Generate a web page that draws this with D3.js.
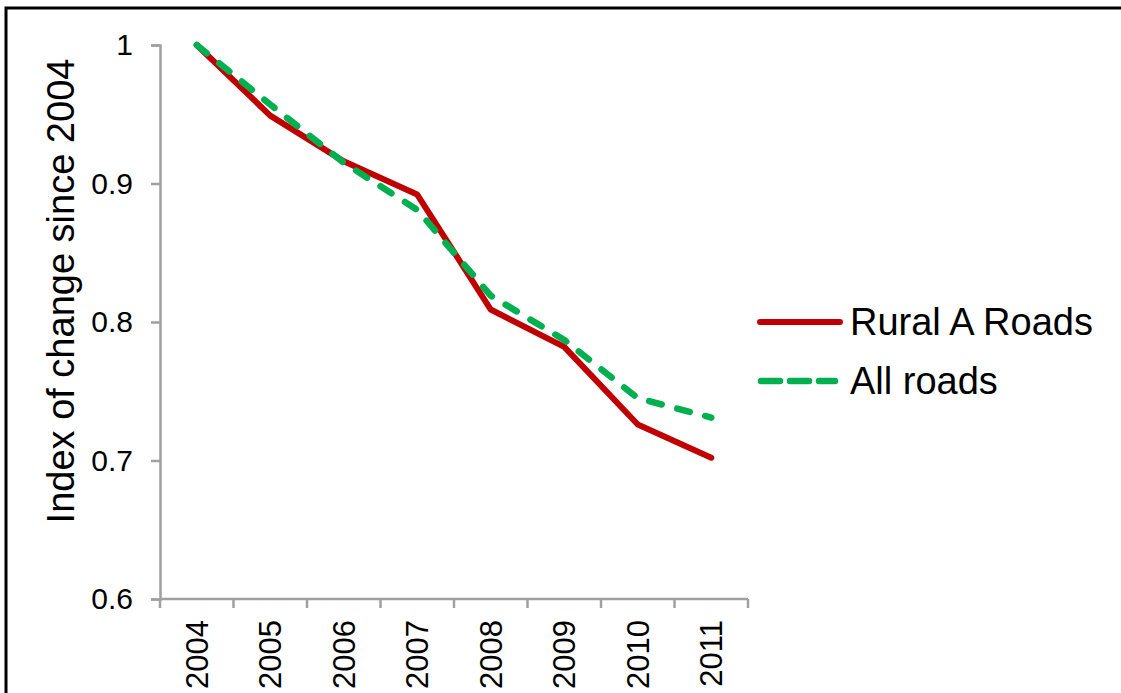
<!DOCTYPE html>
<html>
<head>
<meta charset="utf-8">
<script src="https://cdn.jsdelivr.net/npm/d3@7"></script>
<style>
  html, body { margin: 0; padding: 0; background: #fff; }
  svg { display: block; font-family: "Liberation Sans", Arial, sans-serif; }
</style>
</head>
<body>
<svg id="chart" width="1121" height="693"></svg>
<script>
const years = ["2004", "2005", "2006", "2007", "2008", "2009", "2010", "2011"];
const ruralARoads = [1.0, 0.949, 0.916, 0.892, 0.809, 0.782, 0.726, 0.702];
const allRoads = [1.0, 0.957, 0.915, 0.881, 0.819, 0.787, 0.745, 0.731];
const yTicks = [0.6, 0.7, 0.8, 0.9, 1.0];
const seriesNames = ["Rural A Roads", "All roads"];
const yTitle = "Index of change since 2004";

const svg = d3.select("#chart");
const W = 1121, H = 693;
const m = { left: 160, right: 748, top: 45, bottom: 599 };

// frame
svg.append("path")
  .attr("d", `M6,${H + 5} L6,8 L${W + 5},8`)
  .attr("fill", "none").attr("stroke", "#000").attr("stroke-width", 3);

const x = d3.scaleBand().domain(years).range([m.left, m.right]).padding(0);
const y = d3.scaleLinear().domain([0.6, 1.0]).range([m.bottom, m.top]);
const axisColor = "#a0a0a0";

// y axis
const yAxis = svg.append("g").attr("transform", `translate(${m.left},0)`)
  .call(d3.axisLeft(y).tickValues(yTicks).tickSize(9).tickPadding(18)
    .tickFormat(d => d === 1 ? "1" : d3.format(".1f")(d)));
yAxis.attr("font-size", null).attr("font-family", null);
yAxis.select(".domain").attr("stroke", axisColor).attr("stroke-width", 2.5);
yAxis.selectAll(".tick line").attr("stroke", axisColor).attr("stroke-width", 2.5);
yAxis.selectAll(".tick text").attr("fill", "#000").style("font-size", "30px");

// x axis
const xg = svg.append("g");
xg.append("line").attr("x1", m.left).attr("x2", m.right)
  .attr("y1", m.bottom).attr("y2", m.bottom)
  .attr("stroke", axisColor).attr("stroke-width", 2.5);
const tickPos = years.map(d => x(d)).concat([x.range()[1]]);
xg.selectAll("line.t").data(tickPos).join("line").attr("class", "t")
  .attr("x1", d => d).attr("x2", d => d)
  .attr("y1", m.bottom).attr("y2", m.bottom + 9)
  .attr("stroke", axisColor).attr("stroke-width", 2.5);
xg.selectAll("text.xl").data(years).join("text").attr("class", "xl")
  .attr("transform", d => `translate(${x(d) + x.bandwidth() / 2},620) rotate(-90)`)
  .attr("text-anchor", "end").attr("dy", "0.36em")
  .style("font-size", "31px").attr("fill", "#000")
  .text(d => d);

// y title
svg.append("text")
  .attr("transform", "translate(74,291) rotate(-90)")
  .attr("text-anchor", "middle")
  .style("font-size", "38px").attr("fill", "#000")
  .text(yTitle);

// lines
const line = d3.line().x((d, i) => x(years[i]) + x.bandwidth() / 2).y(d => y(d));
svg.append("path").datum(ruralARoads).attr("d", line)
  .attr("fill", "none").attr("stroke", "#c00000").attr("stroke-width", 6)
  .attr("stroke-linejoin", "round").attr("stroke-linecap", "round");
svg.append("path").datum(allRoads).attr("d", line)
  .attr("fill", "none").attr("stroke", "#00b050").attr("stroke-width", 6.5)
  .attr("stroke-dasharray", "13,16").attr("stroke-linecap", "round");

// legend
const lg = svg.append("g");
lg.append("line").attr("x1", 760).attr("x2", 840).attr("y1", 322).attr("y2", 322)
  .attr("stroke", "#c00000").attr("stroke-width", 6).attr("stroke-linecap", "round");
lg.append("line").attr("x1", 761).attr("x2", 835).attr("y1", 381).attr("y2", 381)
  .attr("stroke", "#00b050").attr("stroke-width", 6.5).attr("stroke-linecap", "round")
  .attr("stroke-dasharray", "19,10");
lg.append("text").attr("x", 850).attr("y", 335).style("font-size", "38px").attr("fill", "#000").text(seriesNames[0]);
lg.append("text").attr("x", 850).attr("y", 394).style("font-size", "38px").attr("fill", "#000").text(seriesNames[1]);
</script>
</body>
</html>
